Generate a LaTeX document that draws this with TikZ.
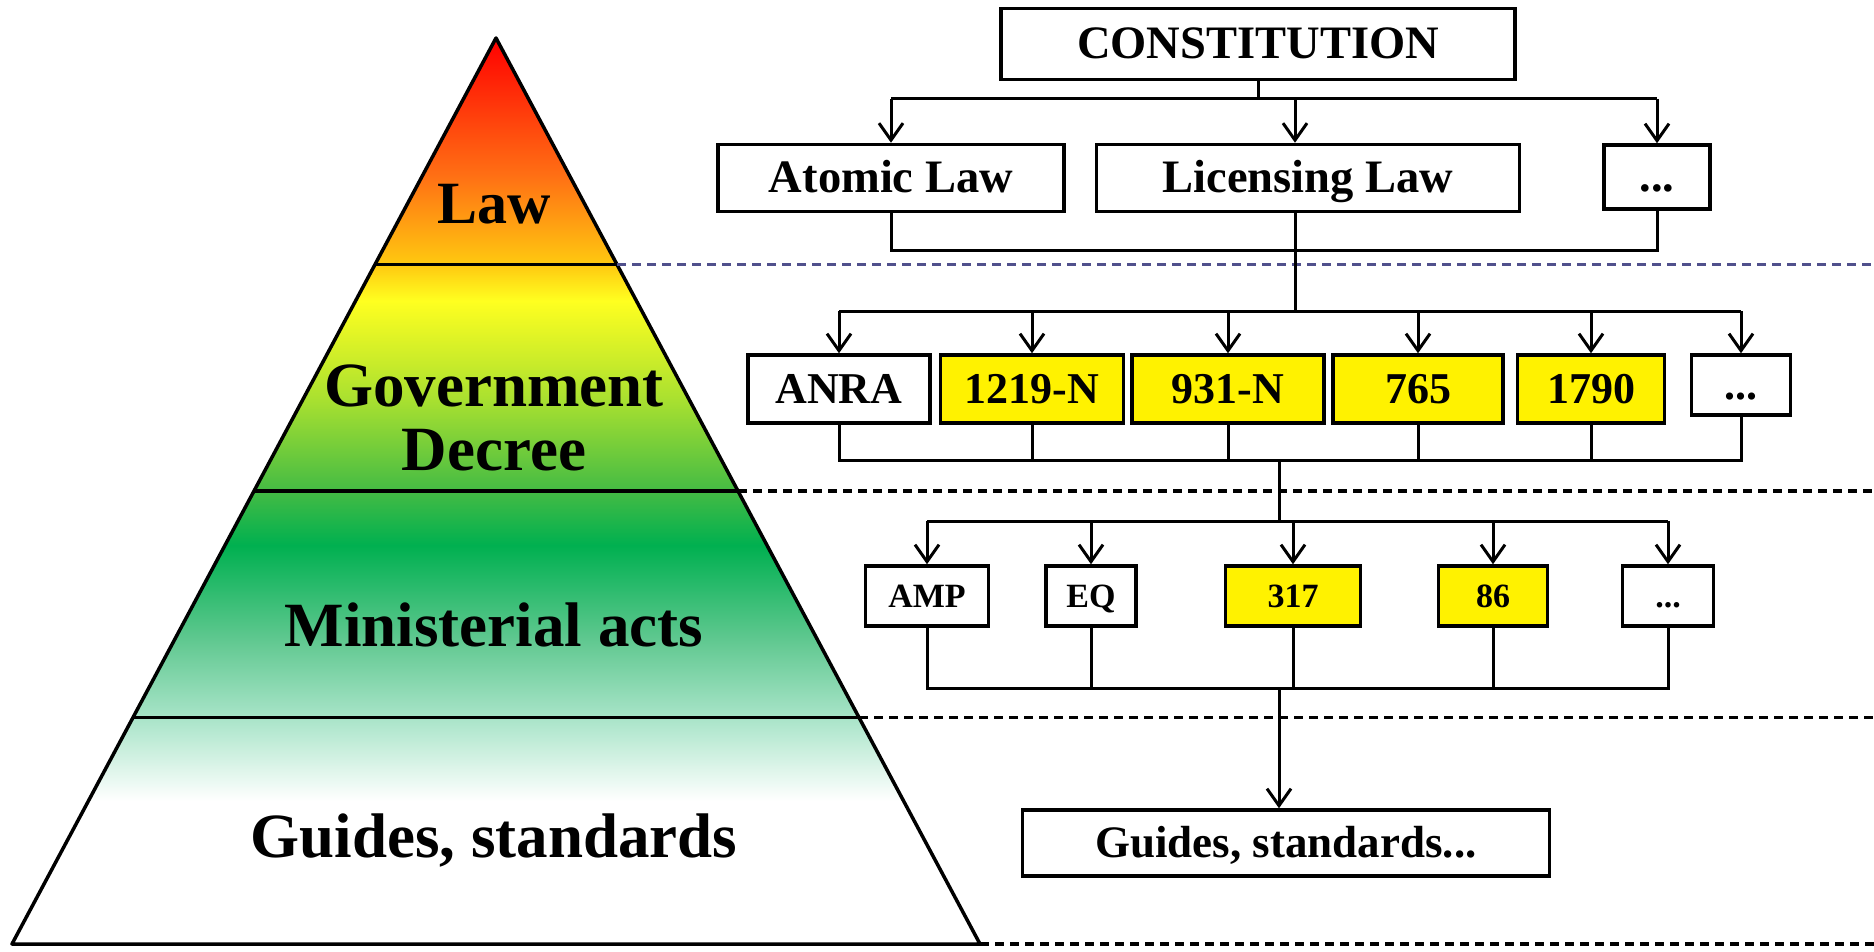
\documentclass[tikz,border=0pt]{standalone}
\usepackage{fontspec}
\setmainfont{Liberation Serif}
\usetikzlibrary{arrows.meta,calc}
\definecolor{fadeorange}{RGB}{255,110,20}
\definecolor{fadegold}{RGB}{255,200,16}
\definecolor{fadeyellow}{RGB}{255,255,32}
\definecolor{fadelime}{RGB}{168,224,48}
\definecolor{fadegreen}{RGB}{68,187,68}
\definecolor{fadeemerald}{RGB}{0,176,80}
\definecolor{fadesea}{RGB}{96,200,144}
\definecolor{fademint}{RGB}{168,228,200}
\definecolor{sepblue}{RGB}{80,80,140}
\pgfdeclareverticalshading{pyramidfade}{100bp}{color(0bp)=(white); color(32.9bp)=(white); color(37.5bp)=(fademint); color(41.8bp)=(fadesea); color(47bp)=(fadeemerald); color(50bp)=(fadegreen); color(55bp)=(fadelime); color(60.5bp)=(fadeyellow); color(62.5bp)=(fadegold); color(67.5bp)=(fadeorange); color(75bp)=(red); color(100bp)=(red)}

\begin{document}
\begin{tikzpicture}[x=1pt,y=-1pt,
  layer/.style={line width=3.5pt,line join=round},
  sep/.style={line width=3.5pt,dash pattern=on 9pt off 6pt},
  tier/.style={font=\bfseries\fontsize{63}{64}\selectfont,align=center},
  tierline/.style={tier,text height=42pt,text depth=0pt},
  doc/.style={draw,line width=3.5pt,fill=white,inner sep=0pt,text height=31pt,text depth=2pt,font=\bfseries\fontsize{44}{50}\selectfont},
  law/.style={doc,text height=32pt,font=\bfseries\fontsize{46.5}{52}\selectfont},
  act/.style={doc,text height=24pt,font=\bfseries\fontsize{34}{40}\selectfont},
  marked/.style={fill=yellow},
  link/.style={line width=3pt},
  feed/.style={link,-{Straight Barb[length=17pt,width=24pt]}}]
\useasboundingbox (0,0) rectangle (1874,952);

% pyramid
\coordinate (apex) at (496,38);
\coordinate (left) at (12,944);
\coordinate (right) at (980,944);
\coordinate (edge) at (1874,0);
\shade[shading=pyramidfade] (apex) -- (left) -- (right) -- cycle;
\draw[layer] ($(apex)!.25!(left)$) -- ($(apex)!.25!(right)$) coordinate (r1);
\draw[layer] ($(apex)!.5!(left)$) -- ($(apex)!.5!(right)$) coordinate (r2);
\draw[layer] ($(apex)!.75!(left)$) -- ($(apex)!.75!(right)$) coordinate (r3);
\draw[layer] (apex) -- (left) -- (right) -- cycle;
\draw[sep,sepblue] (r1) -- (r1 -| edge);
\draw[sep] (r2) -- (r2 -| edge);
\draw[sep] (r3) -- (r3 -| edge);
\draw[sep] (right) -- (right -| edge);

\node(law) at (494,204)[tierline,font=\bfseries\fontsize{60}{62}\selectfont,text height=40pt] {Law};
\node(decree) at (494,418)[tier] {Government\\Decree};
\node(acts) at (494,625)[tierline] {Ministerial acts};
\node(guide) at (494,836)[tierline] {Guides, standards};

% laws
\node(const) at (1258,44)[law,minimum width=514pt,minimum height=71pt] {CONSTITUTION};
\node(atomic) at (891,178)[law,minimum width=346pt,minimum height=67pt] {Atomic Law};
\node(licens) at (1308,178)[law,minimum width=423pt,minimum height=67pt] {Licensing Law};
\node(dots1) at (1657,177)[law,minimum width=106pt,minimum height=64pt] {...};

% decrees
\node(anra) at (839,389)[doc,minimum width=182pt,minimum height=68pt] {ANRA};
\node(n1219) at (1032,389)[doc,marked,minimum width=183pt,minimum height=68pt] {1219-N};
\node(n931) at (1228,389)[doc,marked,minimum width=192pt,minimum height=68pt] {931-N};
\node(n765) at (1418,389)[doc,marked,minimum width=170pt,minimum height=68pt] {765};
\node(n1790) at (1591,389)[doc,marked,minimum width=147pt,minimum height=68pt] {1790};
\node(dots2) at (1741,385)[doc,minimum width=99pt,minimum height=60pt] {...};

% ministerial acts
\node(amp) at (927,596)[act,minimum width=123pt,minimum height=60pt] {AMP};
\node(eq) at (1091,596)[act,minimum width=90pt,minimum height=60pt] {EQ};
\node(n317) at (1293,596)[act,marked,minimum width=135pt,minimum height=60pt] {317};
\node(n86) at (1493,596)[act,marked,minimum width=109pt,minimum height=60pt] {86};
\node(dots3) at (1668,596)[act,minimum width=91pt,minimum height=60pt] {...};

\node(guides) at (1286,843)[doc,font=\bfseries\fontsize{45}{50}\selectfont,minimum width=527pt,minimum height=66pt] {Guides, standards...};

\coordinate (bus1) at (1258,99);
\coordinate (join1) at (1295,250);
\coordinate (bus2) at (1295,311);
\coordinate (join2) at (1279,460);
\coordinate (bus3) at (1279,521);
\coordinate (join3) at (1279,688);

\draw[link] (const) -- (bus1);
\draw[link] (bus1 -| atomic) -- (bus1 -| dots1);
\draw[feed] (bus1 -| atomic) -- (atomic);
\draw[feed] (bus1 -| join1) -- (join1 |- licens.north);
\draw[feed] (bus1 -| dots1) -- (dots1);
\draw[link] (atomic) -- (atomic |- join1) -- (dots1 |- join1) -- (dots1);
\draw[link] (join1 |- licens.south) -- (bus2);

\draw[link] (bus2 -| anra) -- (bus2 -| dots2);
\draw[feed] (bus2 -| anra) -- (anra);
\draw[feed] (bus2 -| n1219) -- (n1219);
\draw[feed] (bus2 -| n931) -- (n931);
\draw[feed] (bus2 -| n765) -- (n765);
\draw[feed] (bus2 -| n1790) -- (n1790);
\draw[feed] (bus2 -| dots2) -- (dots2);
\draw[link] (anra) -- (anra |- join2) -- (dots2 |- join2) -- (dots2);
\draw[link] (n1219) -- (n1219 |- join2);
\draw[link] (n931) -- (n931 |- join2);
\draw[link] (n765) -- (n765 |- join2);
\draw[link] (n1790) -- (n1790 |- join2);
\draw[link] (join2) -- (bus3);

\draw[link] (bus3 -| amp) -- (bus3 -| dots3);
\draw[feed] (bus3 -| amp) -- (amp);
\draw[feed] (bus3 -| eq) -- (eq);
\draw[feed] (bus3 -| n317) -- (n317);
\draw[feed] (bus3 -| n86) -- (n86);
\draw[feed] (bus3 -| dots3) -- (dots3);
\draw[link] (amp) -- (amp |- join3) -- (dots3 |- join3) -- (dots3);
\draw[link] (eq) -- (eq |- join3);
\draw[link] (n317) -- (n317 |- join3);
\draw[link] (n86) -- (n86 |- join3);
\draw[feed] (join3) -- (join3 |- guides.north);
\end{tikzpicture}
\end{document}
